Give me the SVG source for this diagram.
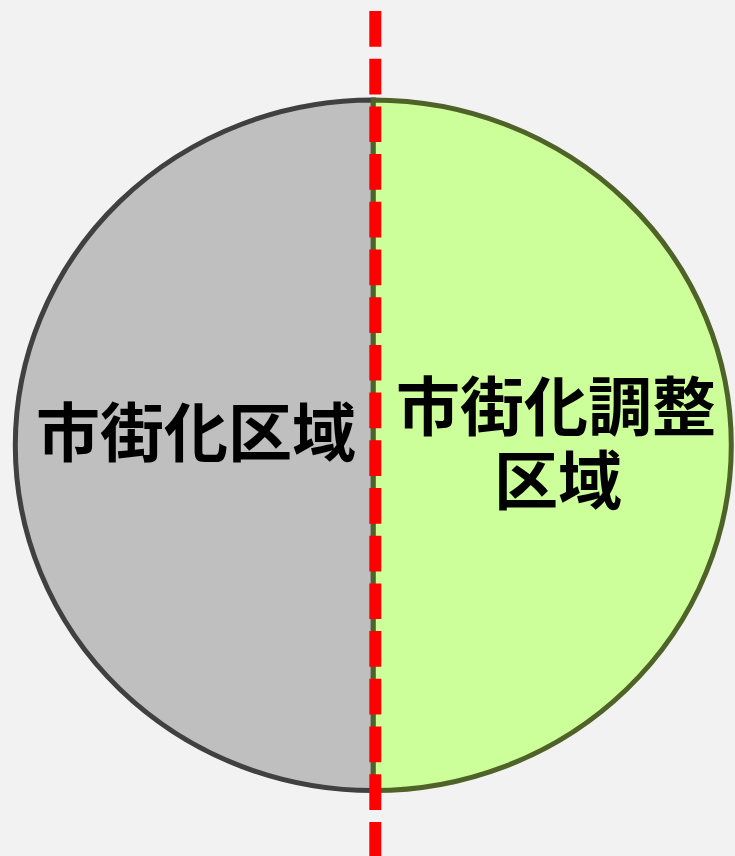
<svg xmlns="http://www.w3.org/2000/svg" width="735" height="856" viewBox="0 0 735 856">
<style>
.lbl{font-family:"Noto Sans CJK JP","Noto Sans CJK SC",sans-serif;font-weight:700;font-size:64px;fill:#000;text-anchor:middle}
</style>
<rect width="735" height="856" fill="#f2f2f2"/>
<g id="urbanization-area">
<path d="M373.3,100 A358,345.3 0 0 0 373.3,790.6 Z" fill="#bfbfbf" stroke="#404040" stroke-width="5"/>
<text class="lbl" x="196" y="456">市街化区域</text>
</g>
<g id="urbanization-control-area">
<path d="M373.3,100 A358,345.3 0 0 1 373.3,790.6 Z" fill="#ccff99" stroke="#4f6228" stroke-width="5"/>
<text class="lbl"><tspan x="556" y="430">市街化調整</tspan><tspan x="558" y="504">区域</tspan></text>
</g>
<g id="connectors">
<line x1="375.3" y1="11" x2="375.3" y2="856" stroke="#ff0000" stroke-width="12" stroke-dasharray="35.7 12"/>
</g>
</svg>
